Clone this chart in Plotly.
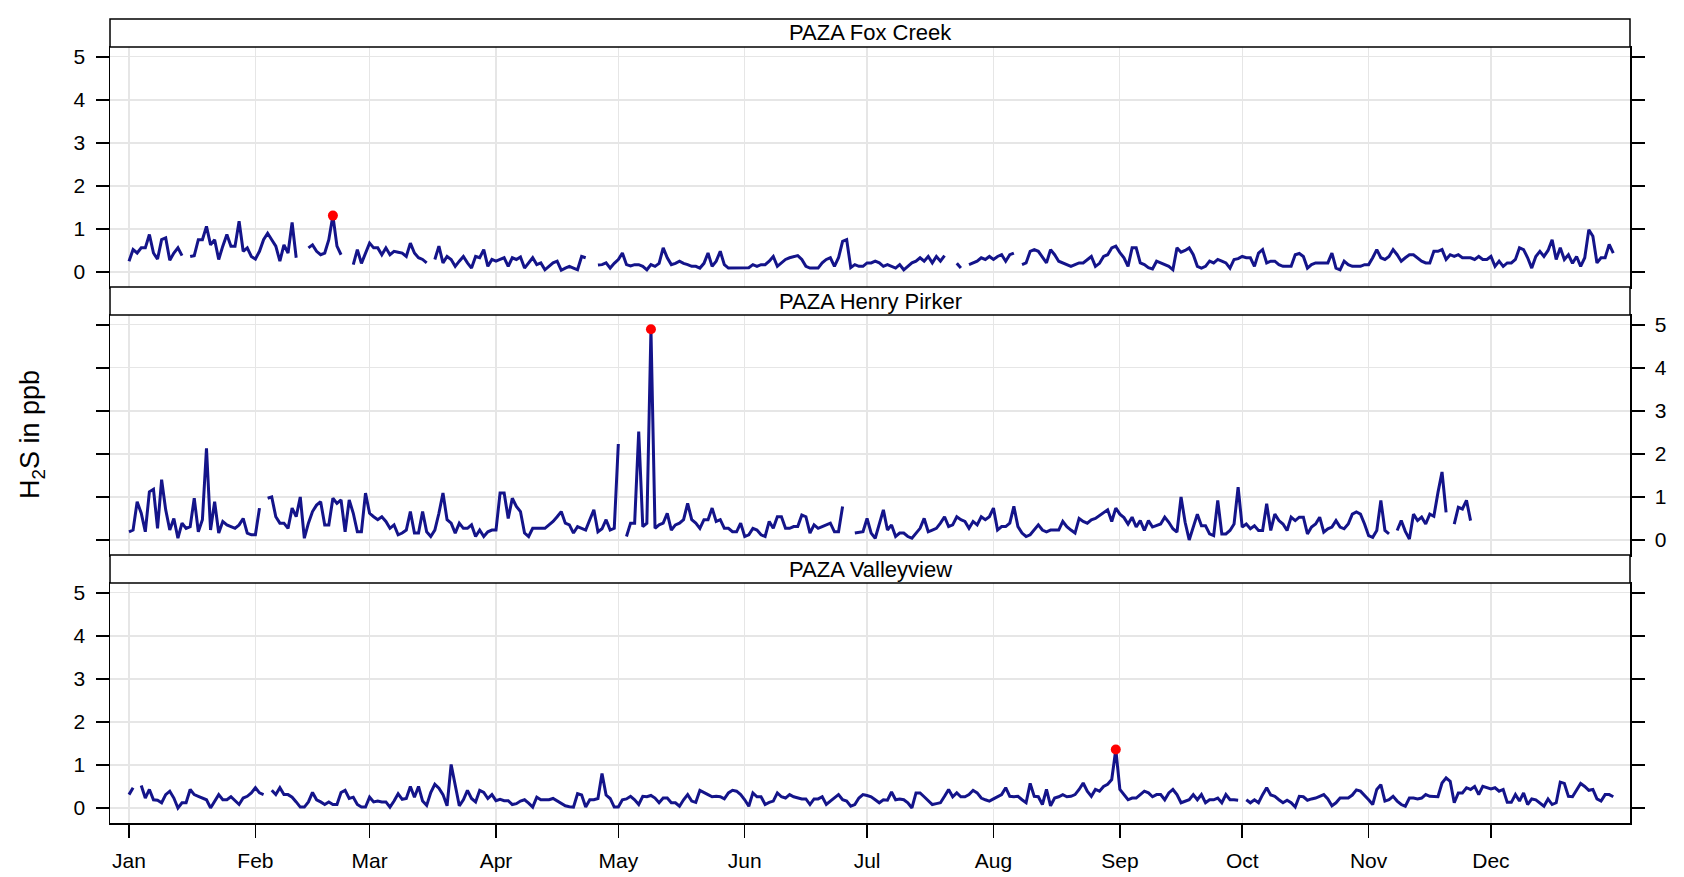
import pandas as pd
import plotly.graph_objects as go

# ---------------- data (daily H2S, ppb) ----------------
year_start = "2019-01-01"
stations = ["PAZA Fox Creek", "PAZA Henry Pirker", "PAZA Valleyview"]
month_labels = ["Jan", "Feb", "Mar", "Apr", "May", "Jun",
                "Jul", "Aug", "Sep", "Oct", "Nov", "Dec"]
y_ticks = [0, 1, 2, 3, 4, 5]

fox_creek = [
    0.25, 0.52, 0.44, 0.56, 0.56, 0.87, 0.44, 0.30, 0.75, 0.79,
    0.27, 0.44, 0.56, 0.38, None, 0.36, 0.38, 0.75, 0.75, 1.06,
    0.63, 0.75, 0.29, 0.60, 0.87, 0.60, 0.60, 1.18, 0.48, 0.56,
    0.36, 0.30, 0.48, 0.75, 0.90, 0.75, 0.60, 0.25, 0.63, 0.44,
    1.15, 0.33, None, None, 0.56, 0.63, 0.48, 0.40, 0.44, 0.75,
    1.31, 0.60, 0.40, None, None, 0.17, 0.52, 0.20, 0.44, 0.67,
    0.56, 0.56, 0.40, 0.56, 0.40, 0.48, 0.46, 0.44, 0.36, 0.67,
    0.44, 0.33, 0.29, 0.21, None, 0.29, 0.60, 0.21, 0.36, 0.29,
    0.13, 0.25, 0.36, 0.21, 0.09, 0.36, 0.33, 0.52, 0.13, 0.29,
    0.25, 0.29, 0.33, 0.13, 0.33, 0.29, 0.35, 0.09, 0.21, 0.33,
    0.17, 0.21, 0.05, 0.13, 0.21, 0.25, 0.04, 0.09, 0.13, 0.09,
    0.05, 0.36, 0.33, None, None, 0.16, 0.17, 0.21, 0.09, 0.20,
    0.29, 0.44, 0.17, 0.14, 0.17, 0.17, 0.13, 0.05, 0.17, 0.13,
    0.20, 0.56, 0.33, 0.17, 0.20, 0.25, 0.20, 0.17, 0.13, 0.13,
    0.09, 0.20, 0.44, 0.13, 0.25, 0.48, 0.17, 0.09, 0.09, 0.09,
    0.09, 0.09, 0.10, 0.17, 0.13, 0.17, 0.17, 0.25, 0.36, 0.13,
    0.21, 0.29, 0.33, 0.36, 0.38, 0.29, 0.13, 0.09, 0.09, 0.09,
    0.21, 0.29, 0.33, 0.13, 0.33, 0.71, 0.75, 0.10, 0.17, 0.13,
    0.13, 0.21, 0.21, 0.25, 0.21, 0.13, 0.17, 0.13, 0.09, 0.17,
    0.05, 0.13, 0.21, 0.25, 0.33, 0.25, 0.36, 0.21, 0.36, 0.25,
    0.38, None, None, 0.20, 0.09, None, 0.17, 0.21, 0.25, 0.33,
    0.29, 0.36, 0.29, 0.36, 0.40, 0.25, 0.40, 0.44, None, 0.17,
    0.21, 0.48, 0.52, 0.48, 0.33, 0.21, 0.52, 0.40, 0.25, 0.21,
    0.17, 0.13, 0.17, 0.21, 0.21, 0.29, 0.36, 0.13, 0.20, 0.36,
    0.40, 0.56, 0.60, 0.45, 0.33, 0.13, 0.56, 0.56, 0.21, 0.17,
    0.10, 0.07, 0.25, 0.21, 0.17, 0.13, 0.05, 0.56, 0.46, 0.50,
    0.56, 0.40, 0.13, 0.09, 0.13, 0.25, 0.21, 0.29, 0.25, 0.21,
    0.09, 0.29, 0.31, 0.36, 0.33, 0.33, 0.13, 0.44, 0.52, 0.21,
    0.25, 0.25, 0.17, 0.13, 0.13, 0.13, 0.40, 0.43, 0.36, 0.09,
    0.17, 0.21, 0.21, 0.21, 0.21, 0.44, 0.09, 0.05, 0.25, 0.17,
    0.13, 0.13, 0.13, 0.17, 0.17, 0.33, 0.52, 0.33, 0.29, 0.36,
    0.52, 0.40, 0.25, 0.33, 0.40, 0.40, 0.33, 0.25, 0.21, 0.21,
    0.48, 0.48, 0.52, 0.29, 0.40, 0.36, 0.40, 0.33, 0.33, 0.33,
    0.29, 0.36, 0.29, 0.29, 0.36, 0.13, 0.25, 0.13, 0.21, 0.21,
    0.29, 0.56, 0.52, 0.33, 0.09, 0.36, 0.48, 0.36, 0.50, 0.75,
    0.29, 0.56, 0.29, 0.40, 0.20, 0.36, 0.13, 0.33, 0.98, 0.83,
    0.21, 0.33, 0.33, 0.64, 0.44,
]

henry_pirker = [
    0.19, 0.23, 0.89, 0.62, 0.19, 1.12, 1.18, 0.27, 1.40, 0.70,
    0.23, 0.50, 0.04, 0.39, 0.27, 0.31, 0.97, 0.19, 0.47, 2.13,
    0.23, 0.89, 0.16, 0.43, 0.35, 0.31, 0.27, 0.35, 0.50, 0.16,
    0.12, 0.12, 0.74, None, 0.97, 1.00, 0.54, 0.39, 0.39, 0.27,
    0.74, 0.54, 1.00, 0.04, 0.39, 0.66, 0.81, 0.89, 0.35, 0.35,
    0.97, 0.85, 0.93, 0.19, 0.93, 0.62, 0.19, 0.19, 1.09, 0.62,
    0.54, 0.47, 0.54, 0.43, 0.27, 0.35, 0.12, 0.16, 0.23, 0.66,
    0.16, 0.16, 0.66, 0.19, 0.08, 0.23, 0.62, 1.09, 0.47, 0.39,
    0.16, 0.39, 0.27, 0.27, 0.35, 0.08, 0.23, 0.08, 0.19, 0.23,
    0.23, 1.09, 1.09, 0.50, 0.97, 0.78, 0.66, 0.16, 0.08, 0.27,
    0.27, 0.27, 0.27, 0.35, 0.43, 0.54, 0.66, 0.39, 0.35, 0.16,
    0.31, 0.27, 0.23, 0.47, 0.70, 0.19, 0.26, 0.47, 0.23, 0.27,
    2.23, None, 0.08, 0.39, 0.39, 2.52, 0.31, 0.39, 4.90, 0.27,
    0.35, 0.39, 0.62, 0.23, 0.35, 0.39, 0.47, 0.85, 0.47, 0.39,
    0.27, 0.47, 0.47, 0.74, 0.43, 0.47, 0.27, 0.27, 0.19, 0.19,
    0.39, 0.08, 0.12, 0.27, 0.23, 0.12, 0.08, 0.43, 0.27, 0.54,
    0.54, 0.27, 0.27, 0.31, 0.31, 0.58, 0.54, 0.16, 0.35, 0.27,
    0.31, 0.35, 0.39, 0.19, 0.19, 0.78, None, None, 0.16, 0.17,
    0.19, 0.50, 0.16, 0.04, 0.39, 0.70, 0.23, 0.35, 0.08, 0.16,
    0.16, 0.08, 0.04, 0.16, 0.27, 0.50, 0.19, 0.23, 0.27, 0.39,
    0.54, 0.31, 0.35, 0.54, 0.47, 0.43, 0.27, 0.43, 0.35, 0.54,
    0.47, 0.54, 0.74, 0.23, 0.31, 0.31, 0.39, 0.78, 0.31, 0.16,
    0.08, 0.12, 0.23, 0.35, 0.23, 0.19, 0.23, 0.23, 0.23, 0.43,
    0.31, 0.23, 0.16, 0.50, 0.43, 0.39, 0.47, 0.50, 0.57, 0.62,
    0.70, 0.43, 0.74, 0.60, 0.52, 0.37, 0.53, 0.30, 0.45, 0.22,
    0.45, 0.30, 0.34, 0.37, 0.53, 0.41, 0.26, 0.18, 1.00, 0.41,
    0.00, 0.30, 0.60, 0.33, 0.33, 0.14, 0.10, 0.92, 0.14, 0.14,
    0.22, 0.37, 1.23, 0.30, 0.37, 0.26, 0.33, 0.22, 0.22, 0.84,
    0.22, 0.60, 0.45, 0.37, 0.22, 0.53, 0.45, 0.53, 0.53, 0.14,
    0.30, 0.37, 0.53, 0.18, 0.26, 0.30, 0.45, 0.30, 0.26, 0.37,
    0.60, 0.65, 0.60, 0.37, 0.10, 0.06, 0.22, 0.92, 0.22, 0.14,
    None, 0.22, 0.45, 0.20, 0.02, 0.60, 0.45, 0.53, 0.37, 0.60,
    0.55, 1.10, 1.58, 0.64, None, 0.37, 0.76, 0.72, 0.92, 0.45,
    None, None, None, None, None, None, None, None, None, None,
    None, None, None, None, None, None, None, None, None, None,
    None, None, None, None, None, None, None, None, None, None,
    None, None, None, None, None,
]

valleyview = [
    0.31, 0.47, None, 0.52, 0.23, 0.43, 0.19, 0.18, 0.12, 0.31,
    0.39, 0.23, 0.00, 0.12, 0.12, 0.43, 0.31, 0.27, 0.23, 0.19,
    0.00, 0.16, 0.31, 0.19, 0.19, 0.26, 0.18, 0.08, 0.23, 0.27,
    0.35, 0.47, 0.35, 0.31, None, 0.41, 0.31, 0.47, 0.31, 0.31,
    0.25, 0.14, 0.02, 0.02, 0.14, 0.36, 0.19, 0.14, 0.08, 0.14,
    0.08, 0.08, 0.36, 0.41, 0.22, 0.25, 0.08, 0.02, 0.02, 0.25,
    0.14, 0.16, 0.14, 0.14, 0.02, 0.16, 0.33, 0.20, 0.22, 0.50,
    0.25, 0.50, 0.16, 0.06, 0.36, 0.55, 0.46, 0.31, 0.05, 1.01,
    0.50, 0.05, 0.19, 0.41, 0.22, 0.14, 0.41, 0.36, 0.22, 0.31,
    0.17, 0.20, 0.17, 0.17, 0.08, 0.10, 0.16, 0.19, 0.11, 0.02,
    0.25, 0.19, 0.19, 0.19, 0.22, 0.16, 0.11, 0.05, 0.03, 0.02,
    0.33, 0.30, 0.02, 0.19, 0.19, 0.22, 0.80, 0.30, 0.22, 0.02,
    0.02, 0.19, 0.21, 0.27, 0.19, 0.08, 0.27, 0.26, 0.29, 0.23,
    0.12, 0.23, 0.23, 0.12, 0.12, 0.04, 0.19, 0.31, 0.16, 0.13,
    0.41, 0.35, 0.31, 0.26, 0.27, 0.26, 0.21, 0.35, 0.41, 0.39,
    0.31, 0.19, 0.04, 0.35, 0.26, 0.26, 0.08, 0.13, 0.16, 0.35,
    0.26, 0.23, 0.31, 0.26, 0.23, 0.21, 0.21, 0.08, 0.21, 0.21,
    0.26, 0.08, 0.16, 0.23, 0.31, 0.19, 0.16, 0.04, 0.08, 0.23,
    0.31, 0.29, 0.26, 0.19, 0.12, 0.19, 0.18, 0.37, 0.19, 0.21,
    0.19, 0.12, 0.00, 0.35, 0.35, 0.26, 0.16, 0.08, 0.10, 0.12,
    0.27, 0.43, 0.26, 0.35, 0.26, 0.26, 0.31, 0.41, 0.35, 0.23,
    0.19, 0.16, 0.21, 0.26, 0.31, 0.47, 0.27, 0.26, 0.27, 0.19,
    0.12, 0.57, 0.27, 0.26, 0.08, 0.43, 0.05, 0.23, 0.26, 0.31,
    0.26, 0.27, 0.31, 0.43, 0.58, 0.39, 0.27, 0.43, 0.39, 0.50,
    0.55, 0.66, 1.36, 0.43, 0.31, 0.19, 0.23, 0.23, 0.31, 0.39,
    0.35, 0.26, 0.31, 0.31, 0.19, 0.35, 0.43, 0.31, 0.12, 0.16,
    0.19, 0.31, 0.19, 0.31, 0.12, 0.19, 0.19, 0.23, 0.12, 0.31,
    0.19, 0.19, 0.18, None, 0.19, 0.12, 0.19, 0.12, 0.31, 0.47,
    0.30, 0.27, 0.19, 0.12, 0.18, 0.12, 0.02, 0.27, 0.26, 0.18,
    0.21, 0.23, 0.27, 0.31, 0.21, 0.05, 0.12, 0.23, 0.23, 0.23,
    0.30, 0.42, 0.39, 0.30, 0.19, 0.08, 0.43, 0.54, 0.16, 0.19,
    0.27, 0.16, 0.08, 0.04, 0.23, 0.23, 0.21, 0.23, 0.31, 0.27,
    0.26, 0.26, 0.58, 0.70, 0.62, 0.12, 0.35, 0.35, 0.47, 0.43,
    0.50, 0.31, 0.50, 0.47, 0.44, 0.47, 0.39, 0.43, 0.13, 0.13,
    0.31, 0.16, 0.35, 0.08, 0.21, 0.19, 0.12, 0.04, 0.21, 0.08,
    0.12, 0.60, 0.57, 0.27, 0.26, 0.40, 0.57, 0.50, 0.41, 0.43,
    0.21, 0.16, 0.31, 0.31, 0.26,
]

series = [fox_creek, henry_pirker, valleyview]
for s in series:
    assert len(s) == 365, len(s)

dates = pd.date_range(year_start, periods=365, freq="D")
month_starts = pd.date_range(year_start, periods=12, freq="MS")

# ---------------- styling ----------------
W, H = 1684, 877
L, T = 110, 19                # plot area left/top (page px)
R = W - 1630                  # plot area right edge at page px 1630
B = H - 823                   # plot area bottom at page px 823
plot_h = H - T - B
plot_w = W - L - R
FONT = "Liberation Sans, Arial, sans-serif"
LINE = "#14148a"
GRID = "#e6e6e6"

def py(page_y):
    return (H - B - page_y) / plot_h

def px(page_x):
    return (page_x - L) / plot_w

panel_px = [(47, 287), (315, 555), (583, 823)]      # data area top/bottom (page px)
strip_px = [(19, 47), (287, 315), (555, 583)]       # strip top/bottom (page px)

t0 = pd.Timestamp(year_start)
x_range = [t0 + pd.Timedelta(days=-4.66), t0 + pd.Timedelta(days=368.1)]
y_range = [-0.35, 5.23]

fig = go.Figure()
for i, (name, vals) in enumerate(zip(stations, series)):
    ax = "" if i == 0 else str(i + 1)
    fig.add_trace(go.Scatter(x=dates, y=vals, mode="lines",
                             line=dict(color=LINE, width=3),
                             connectgaps=False, hoverinfo="skip",
                             xaxis="x" + ax, yaxis="y" + ax, showlegend=False))
    s = pd.Series(vals, index=dates, dtype="float")
    imax = s.idxmax()
    fig.add_trace(go.Scatter(x=[imax], y=[s[imax]], mode="markers",
                             marker=dict(color="#ff0000", size=10),
                             hoverinfo="skip",
                             xaxis="x" + ax, yaxis="y" + ax, showlegend=False))

# empty trace carrying the top tick axis
fig.add_trace(go.Scatter(x=[], y=[], xaxis="x4", yaxis="y", showlegend=False))

layout = dict(
    width=W, height=H,
    margin=dict(l=L, r=R, t=T, b=B, autoexpand=False),
    paper_bgcolor="white", plot_bgcolor="white",
    font=dict(family=FONT, color="black", size=21),
    showlegend=False,
)

for i in range(3):
    top, bot = panel_px[i]
    ax = "" if i == 0 else str(i + 1)
    xa = dict(domain=[0, 1], range=x_range, anchor="y" + ax,
              tickvals=list(month_starts), ticktext=month_labels,
              showgrid=True, gridcolor=GRID, gridwidth=1.2,
              zeroline=False, showline=True, mirror=True,
              linecolor="black", linewidth=1.5, automargin=False)
    if i < 2:
        xa.update(ticks="", showticklabels=False)
    else:
        xa.update(ticks="outside", ticklen=13, tickwidth=1.5, tickcolor="black",
                  tickfont=dict(size=21), ticklabelstandoff=5)
    ya = dict(domain=[py(bot), py(top)], range=y_range, anchor="x" + ax,
              tickvals=y_ticks, ticks="outside", ticklen=13, tickwidth=1.5,
              tickcolor="black", showgrid=True, gridcolor=GRID, gridwidth=1.2,
              zeroline=False, showline=True, mirror="ticks",
              linecolor="black", linewidth=1.5, tickfont=dict(size=21),
              side="right" if i == 1 else "left", ticklabelstandoff=6,
              automargin=False)
    layout["xaxis" + ax] = xa
    layout["yaxis" + ax] = ya

layout["xaxis4"] = dict(overlaying="x", anchor="free", position=1.0, side="top",
                        range=x_range, tickvals=list(month_starts),
                        ticks="outside", ticklen=14, tickwidth=1.5, tickcolor="black",
                        showticklabels=False, showgrid=False, showline=False,
                        zeroline=False, automargin=False)

shapes = []
annotations = []
for i, name in enumerate(stations):
    st, sb = strip_px[i]
    shapes.append(dict(type="rect", xref="paper", yref="paper",
                       x0=0, x1=1, y0=py(sb), y1=py(st),
                       line=dict(color="black", width=1.5), fillcolor="white",
                       layer="above"))
    annotations.append(dict(text=name, xref="paper", yref="paper",
                            x=0.5, y=py((st + sb) / 2), xanchor="center",
                            yanchor="middle", showarrow=False,
                            font=dict(size=22, color="black", family=FONT)))

annotations.append(dict(text="H<sub>2</sub>S in ppb", xref="paper", yref="paper",
                        x=px(32), y=py(435), textangle=-90,
                        xanchor="center", yanchor="middle", showarrow=False,
                        font=dict(size=27, color="black", family=FONT)))

layout["shapes"] = shapes
layout["annotations"] = annotations
fig.update_layout(**layout)

# remove the default page margin so the figure fills the window exactly
fig.write_html("out.html",
               config={"displayModeBar": False, "staticPlot": True},
               post_script="document.body.style.margin='0px';"
                           "document.body.style.overflow='hidden';")
